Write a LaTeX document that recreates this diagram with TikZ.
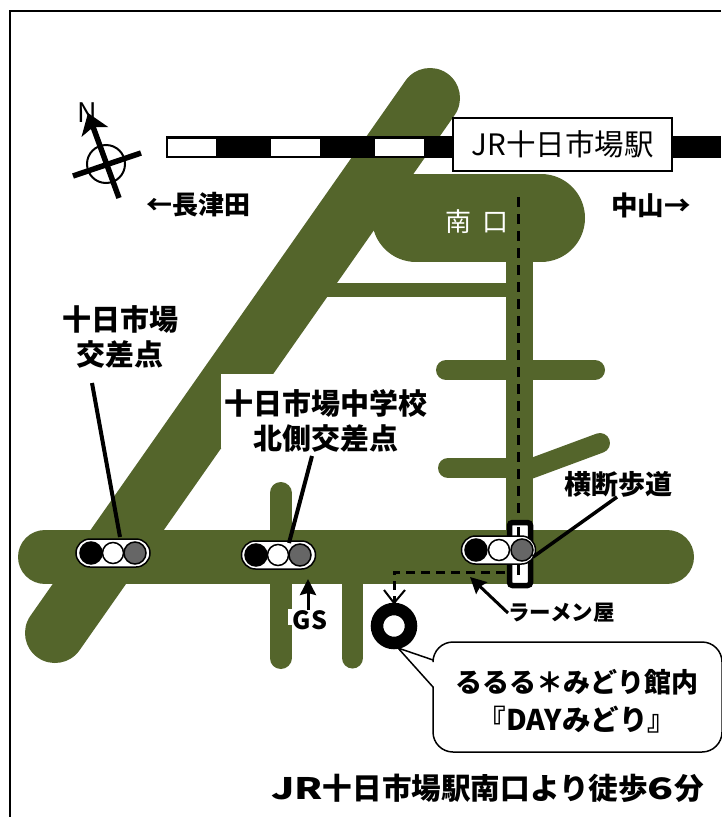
\documentclass[tikz,border=0pt]{standalone}
\usepackage{graphicx}
\usepackage{fontspec}
\setmainfont{Noto Sans CJK JP}
\usetikzlibrary{arrows.meta}
\newcommand{\fsz}[1]{\fontsize{#1}{#1}\selectfont}
\definecolor{road}{HTML}{54652B}
\definecolor{lampgray}{HTML}{666666}
\tikzset{
 roadline/.style={draw=road,line cap=round,line width=#1},
 roadflat/.style={draw=road,line width=#1},
 txt/.style={inner sep=0pt,align=center,text=black},
 leader/.style={draw=black,line width=#1},
 walk/.style={draw=black,line width=3pt,dash pattern=on 10pt off 7pt},
 pill/.style={draw=black,line width=1.5pt,fill=white,rounded corners=14pt,minimum width=74pt,minimum height=28pt,inner sep=0pt},
 lamp/.style={circle,draw=black,line width=1.5pt,minimum size=#1,inner sep=0pt},
}
\begin{document}
\begin{tikzpicture}[x=1pt,y=-1pt]
\useasboundingbox (0,0) rectangle (721,817);
\fill[white] (0,0) rectangle (721,817);
% frame
\draw[line width=2pt] (10,817) -- (10,11) -- (721,11);
% roads
\draw[roadline=60pt] (55,633) -- (430,98);
\draw[roadline=54pt] (45,557) -- (667,557);
\draw[roadline=88pt] (416,218) -- (541,218);
\draw[roadflat=14pt] (300,290) -- (519,290);
\draw[roadflat=27pt] (519.5,250) -- (519.5,557);
\draw[roadline=20pt] (446,370) -- (595,370);
\draw[roadline=20pt] (448,468) -- (519,468);
\draw[roadline=20pt] (519,473) -- (600,443);
\draw[roadline=22pt] (280.5,493) -- (280.5,658);
\draw[roadline=21pt] (352.5,557) -- (352.5,658);
% white backing behind the labels
\fill[white] (221,374) rectangle (430,448);
\fill[white] (288,609) rectangle (300,625);
% railway
\fill[black] (166,136) rectangle (453,158);
\fill[black] (672,136) rectangle (721,158);
\foreach \a/\b in {167.5/216,271/320,375/424}
  \fill[white] (\a,138.5) rectangle (\b,155.5);
\node[draw=black,line width=1.5pt,fill=white,minimum width=219pt,minimum height=53pt,inner sep=0pt,font=\fsz{29.5}] (station) at (562.5,144.5) {\raisebox{-2pt}{JR十日市場駅}};
% compass
\coordinate (ns) at (119,198);
\coordinate (nn) at (88,113);
\coordinate (ew1) at (73,176);
\coordinate (ew2) at (141,153);
\node[circle,draw=black,line width=2pt,minimum size=38pt,inner sep=0pt] (dial) at (106,164) {};
\draw[leader=5.5pt,-{Stealth[length=20pt,width=28pt,inset=5pt]}] (ns) -- (nn);
\draw[leader=5.5pt] (ew1) -- (ew2);
\node[txt,font=\fsz{27}] (north) at (87,113) {N};
% direction labels
\node[txt,font=\bfseries\fsz{26}] (nagatsuta) at (198.5,205) {←長津田};
\node[txt,font=\bfseries\fsz{26.5}] (nakayama) at (651,205) {中山→};
\node[txt,text=white,font=\fsz{26}] (south) at (477,222) {南\hspace{11pt}口};
% walking route
\coordinate (w1) at (518,197);
\coordinate (w2) at (518,521);
\draw[walk] (w1) -- (w2);
% crosswalk
\node[draw=black,line width=5.5pt,fill=white,rounded corners=3pt,minimum width=21pt,minimum height=63pt,inner sep=0pt] (cross) at (520,554) {};
\draw[line width=3pt] (518,527) -- (518,536) (518,565) -- (518,575);
\coordinate (w3) at (505,572);
\coordinate (w4) at (394,572);
\coordinate (w5) at (394,604);
\draw[line width=3pt,dash pattern=on 9pt off 6pt] (w3) -- (w4) -- (w5);
\draw[line width=2pt] (384,590) -- (394,603) -- (405,590);
% traffic lights
\node[pill] (tl1) at (113,553) {};
\node[lamp=22pt,fill=black] at (91,553) {};
\node[lamp=21pt,fill=white] at (113,553) {};
\node[lamp=22pt,fill=lampgray] at (135,553) {};
\node[pill] (tl2) at (278.5,555) {};
\node[lamp=22pt,fill=black] at (256,555) {};
\node[lamp=21pt,fill=white] at (278,555) {};
\node[lamp=22pt,fill=lampgray] at (300,555) {};
\node[pill] (tl3) at (498.5,550) {};
\node[lamp=22pt,fill=black] at (476,550) {};
\node[lamp=21pt,fill=white] at (499,550) {};
\node[lamp=22pt,fill=lampgray] at (522,550) {};
% labels with leaders
\node[txt,font=\bfseries\fsz{29}] (c1) at (120,337) {十日市場\\[6pt]交差点};
\node[txt,font=\bfseries\fsz{29}] (c2) at (326,420.5) {十日市場中学校\\[6pt]北側交差点};
\node[txt,font=\bfseries\fsz{27}] (walkcross) at (618,484) {横断歩道};
\coordinate (c1a) at (92,383);
\coordinate (c2a) at (312,456);
\coordinate (c3a) at (617,497);
\draw[leader=4pt] (c1a) -- (120,537);
\draw[leader=4pt] (c2a) -- (289,543);
\draw[leader=3.5pt] (c3a) -- (533,557);
% ramen
\node[txt,font=\bfseries\fsz{21.5}] (ramen) at (561.5,613) {ラーメン屋};
\coordinate (ramenA) at (470,577);
\draw[leader=3pt,-{Stealth[length=16pt,width=16pt,inset=2pt]}] (ramen.west) -- (ramenA);
% GS
\node[txt,font=\bfseries\fsz{25}] (gs) at (310,620) {GS};
\coordinate (gsA) at (308,579);
\draw[leader=3pt,-{Stealth[length=16pt,width=16pt,inset=2pt]}] (gs.north -| gsA) -- (gsA);
% destination
\node[circle,draw=black,line width=12.5pt,fill=white,minimum size=34pt,inner sep=0pt] (dest) at (394,626) {};
\coordinate (tip) at (398,648);
\draw[line width=1.5pt,fill=white,line join=miter] (tip) -- (433,660)
  -- (433,662) arc[start angle=180,end angle=270,radius=20] -- (702,642)
  arc[start angle=270,end angle=360,radius=20] -- (722,732)
  arc[start angle=0,end angle=90,radius=20] -- (453,752)
  arc[start angle=90,end angle=180,radius=20] -- (433,687) -- cycle;
\node[txt,font=\bfseries\fsz{27}] (info) at (577,682) {るるる＊みどり館内};
\node[txt,font=\bfseries\fsz{28.5}] (info2) at (577,720) {『DAYみどり』};
% footer
\node[txt,font=\bfseries\fsz{29.6}] (foot) at (487.5,788) {\scalebox{1.35}[1]{JR}十日市場駅南口より徒歩\scalebox{1.45}[1]{6}分};
\end{tikzpicture}
\end{document}
